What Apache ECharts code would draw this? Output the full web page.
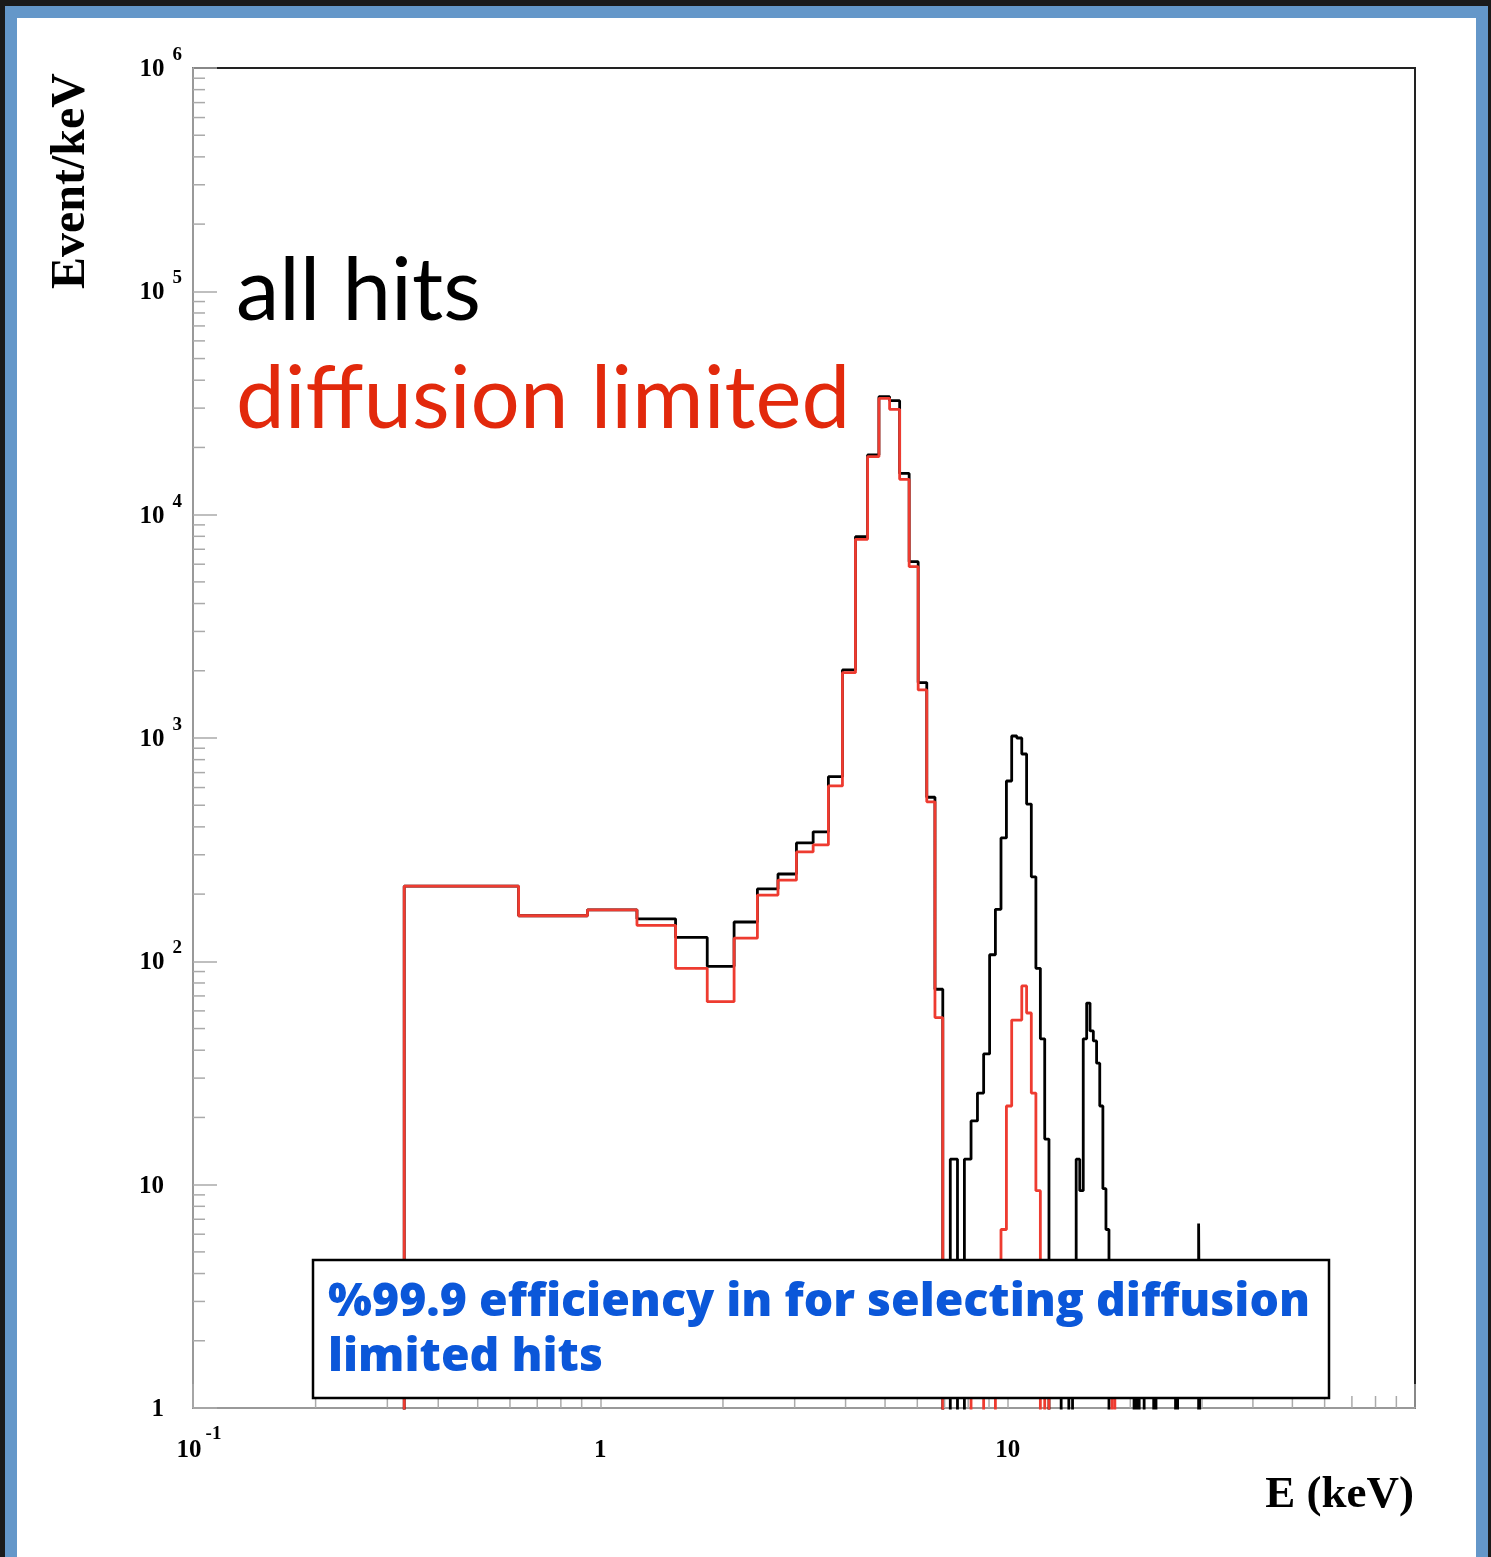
<!DOCTYPE html>
<html>
<head>
<meta charset="utf-8">
<script src="https://cdn.jsdelivr.net/npm/echarts@6/dist/echarts.min.js"></script>
<style>
html,body{margin:0;padding:0;background:#1b1b1b;overflow:hidden;width:1491px;height:1557px;}
#frame{position:absolute;left:5px;top:6px;width:1459px;height:1540px;border:12px solid #6497c9;background:#ffffff;}
#c{position:absolute;left:0;top:0;width:1491px;height:1557px;}
</style>
</head>
<body>
<div id="frame"></div>
<div id="c"></div>
<script>
// Histogram binning (keV): bins of width 0.3 keV starting at 0.33 keV
const binStart = 0.33;
const binWidth = 0.3;

// Event/keV per bin, all hits (black)
const allHits = [
  217, 160, 170, 155, 128, 95, 150, 211, 246, 339,          // 0-9
  380, 671, 2017, 7966, 18500, 33760, 32400, 15300, 6160, 1770, // 10-19
  543, 75, 0, 13, 0, 13, 19.3, 25.7, 38.5, 107,              // 20-29
  171, 357, 642, 1021, 1000, 848, 506, 239, 93, 45,          // 30-39
  16, 0, 0, 0, 3.2, 3.2, 0, 3.2, 13, 9.4,                    // 40-49
  45, 65, 48.8, 44, 35, 22.5, 9.6, 6.3, 0, 0,                // 50-59
  0, 0, 0, 0, 0, 0, 0, 3.2, 0, 3.2,                          // 60-69
  3.2, 0, 0, 0, 0, 3.2, 0, 0, 0, 0,                          // 70-79
  0, 0, 0, 0, 0, 3.2, 0, 0, 0, 0,                            // 80-89
  0, 0, 0, 0, 0, 0, 0, 6.7                                   // 90-97
];

// Event/keV per bin, diffusion limited (red)
const diffusionLimited = [
  217, 160, 170, 145, 93, 66, 127, 198, 231, 309,
  332, 610, 1961, 7757, 18180, 33200, 29640, 14400, 5850, 1641,
  518, 56, 0, 0, 0, 0, 3.2, 3.2, 0, 0,
  3.2, 6.3, 22.5, 54.6, 54.6, 77.6, 58.7, 25.7, 9.4, 0,
  3.2, 0, 0, 0, 0, 0, 0, 0, 0, 0,
  0, 0, 0, 0, 0, 0, 0, 0, 0, 3.2,
  0, 0, 0, 0, 0, 0, 0, 0, 0, 0,
  0, 0, 0, 0, 0, 0, 0, 0, 0, 0,
  0, 0, 0, 0, 0, 0, 0, 0, 0, 0,
  0, 0, 0, 0, 0, 0, 0, 0
];

const xRange = [0.1, 100];
const yRange = [1, 1000000];
const seriesNames = ['all hits', 'diffusion limited'];
const noteLines = ['%99.9 efficiency in for selecting diffusion', 'limited hits'];

// minor tick positions (2..9 x 10^k)
const minorX = [], minorY = [];
for (let k = -1; k < 2; k++) for (let m = 2; m <= 9; m++) minorX.push(m * Math.pow(10, k));
for (let k = 0; k < 6; k++) for (let m = 2; m <= 9; m++) minorY.push(m * Math.pow(10, k));

const FLOOR = 0.3; // empty bins drawn below the frame (clipped), like ROOT on log scale
function stepData(vals) {
  const pts = [[binStart, FLOOR]];
  for (let i = 0; i < vals.length; i++) {
    const lo = binStart + i * binWidth, hi = lo + binWidth;
    const v = vals[i] > 0 ? vals[i] : FLOOR;
    pts.push([lo, v], [hi, v]);
  }
  pts.push([binStart + vals.length * binWidth, FLOOR]);
  return pts;
}

const serif = 'Liberation Serif';
const tickColor = '#aaaaaa';

const chart = echarts.init(document.getElementById('c'), null, {renderer: 'canvas'});
chart.setOption({
  animation: false,
  backgroundColor: 'transparent',
  grid: {left: 193, right: 76, top: 68, bottom: 149, show: true, borderColor: '#222', borderWidth: 2, backgroundColor: 'transparent', containLabel: false},
  xAxis: {
    type: 'log', logBase: 10, min: xRange[0], max: xRange[1], splitNumber: 3,
    axisLine: {show: true, lineStyle: {color: '#999', width: 2}},
    axisTick: {show: true, inside: true, length: 24, lineStyle: {color: tickColor, width: 1.5}},
    splitLine: {show: false},
    axisLabel: {
      margin: 17, showMinLabel: true, showMaxLabel: true, hideOverlap: false,
      formatter: function (v) {
        const e = Math.round(Math.log10(v));
        if (e === -1) return '{bp|10}{s|-1}';
        if (e === 0) return '{b|1}';
        if (e === 1) return '{b|10}';
        return '';
      },
      rich: {
        b: {fontSize: 25, fontFamily: serif, fontWeight: 'bold', color: '#000', lineHeight: 52, verticalAlign: 'middle'},
        bp: {fontSize: 25, fontFamily: serif, fontWeight: 'bold', color: '#000', lineHeight: 52, verticalAlign: 'middle', padding: [0, 0, 0, 12]},
        s: {fontSize: 19, fontFamily: serif, fontWeight: 'bold', color: '#000', lineHeight: 19, verticalAlign: 'middle', padding: [0, 0, 33, 4]}
      }
    }
  },
  yAxis: {
    type: 'log', logBase: 10, min: yRange[0], max: yRange[1], splitNumber: 6,
    axisLine: {show: true, lineStyle: {color: '#999', width: 2}},
    axisTick: {show: true, inside: true, length: 24, lineStyle: {color: tickColor, width: 1.5}},
    splitLine: {show: false},
    axisLabel: {
      margin: 11, showMinLabel: true, showMaxLabel: true, hideOverlap: false,
      formatter: function (v) {
        const e = Math.round(Math.log10(v));
        if (e === 0) return '{b|1}{p| }';
        if (e === 1) return '{b|10}{p| }';
        return '{b|10}{s|' + e + '}';
      },
      rich: {
        b: {fontSize: 25, fontFamily: serif, fontWeight: 'bold', color: '#000', lineHeight: 25, verticalAlign: 'middle', padding: [3, 0, 0, 0]},
        s: {fontSize: 19, fontFamily: serif, fontWeight: 'bold', color: '#000', lineHeight: 19, verticalAlign: 'middle', padding: [0, 0, 26, 8]},
        p: {fontSize: 19, fontFamily: serif, width: 18, lineHeight: 19}
      }
    }
  },
  series: [
    {
      name: seriesNames[0], type: 'line', data: stepData(allHits), symbol: 'none', showSymbol: false,
      clip: true, silent: true, z: 3,
      lineStyle: {color: '#000000', width: 2.8}
    },
    {
      name: seriesNames[1], type: 'line', data: stepData(diffusionLimited), symbol: 'none', showSymbol: false,
      clip: true, silent: true, z: 4,
      lineStyle: {color: '#ee3b30', width: 2.8}
    },
    {
      type: 'custom', coordinateSystem: 'cartesian2d', silent: true, clip: false, z: 5,
      data: minorY.map(v => [xRange[0], v]), encode: {x: 0, y: 1},
      renderItem: function (params, api) {
        const p = api.coord([api.value(0), api.value(1)]);
        return {type: 'line', shape: {x1: p[0], y1: p[1], x2: p[0] + 12, y2: p[1]}, style: {stroke: tickColor, lineWidth: 1.5}};
      }
    },
    {
      type: 'custom', coordinateSystem: 'cartesian2d', silent: true, clip: false, z: 5,
      data: minorX.map(v => [v, yRange[0]]), encode: {x: 0, y: 1},
      renderItem: function (params, api) {
        const p = api.coord([api.value(0), api.value(1)]);
        return {type: 'line', shape: {x1: p[0], y1: p[1], x2: p[0], y2: p[1] - 12}, style: {stroke: tickColor, lineWidth: 1.5}};
      }
    }
  ],
  graphic: [
    {type: 'text', z: 50, x: 72, y: 181, rotation: Math.PI / 2,
      style: {text: 'Event/keV', font: 'bold 48px "Liberation Serif"', fill: '#000', align: 'center', verticalAlign: 'middle'}},
    {type: 'text', z: 50, x: 1414, y: 1495,
      style: {text: 'E (keV)', font: 'bold 45px "Liberation Serif"', fill: '#000', align: 'right', verticalAlign: 'middle'}},
    {type: 'text', z: 50, x: 236, y: 292,
      style: {text: seriesNames[0], font: '87px Lato', fill: '#000', align: 'left', verticalAlign: 'middle'}},
    {type: 'text', z: 50, x: 236, y: 400,
      style: {text: seriesNames[1], font: '87px Lato', fill: '#e2290c', align: 'left', verticalAlign: 'middle'}},
    {type: 'rect', z: 60, shape: {x: 313, y: 1260, width: 1016, height: 138},
      style: {fill: '#ffffff', stroke: '#000000', lineWidth: 2.5}},
    {type: 'text', z: 61, x: 328, y: 1303,
      style: {text: noteLines[0], font: '800 46.4px "Open Sans"', fill: '#0b57d9', align: 'left', verticalAlign: 'middle'}},
    {type: 'text', z: 61, x: 328, y: 1358,
      style: {text: noteLines[1], font: '800 46.4px "Open Sans"', fill: '#0b57d9', align: 'left', verticalAlign: 'middle'}}
  ]
});
</script>
</body>
</html>
